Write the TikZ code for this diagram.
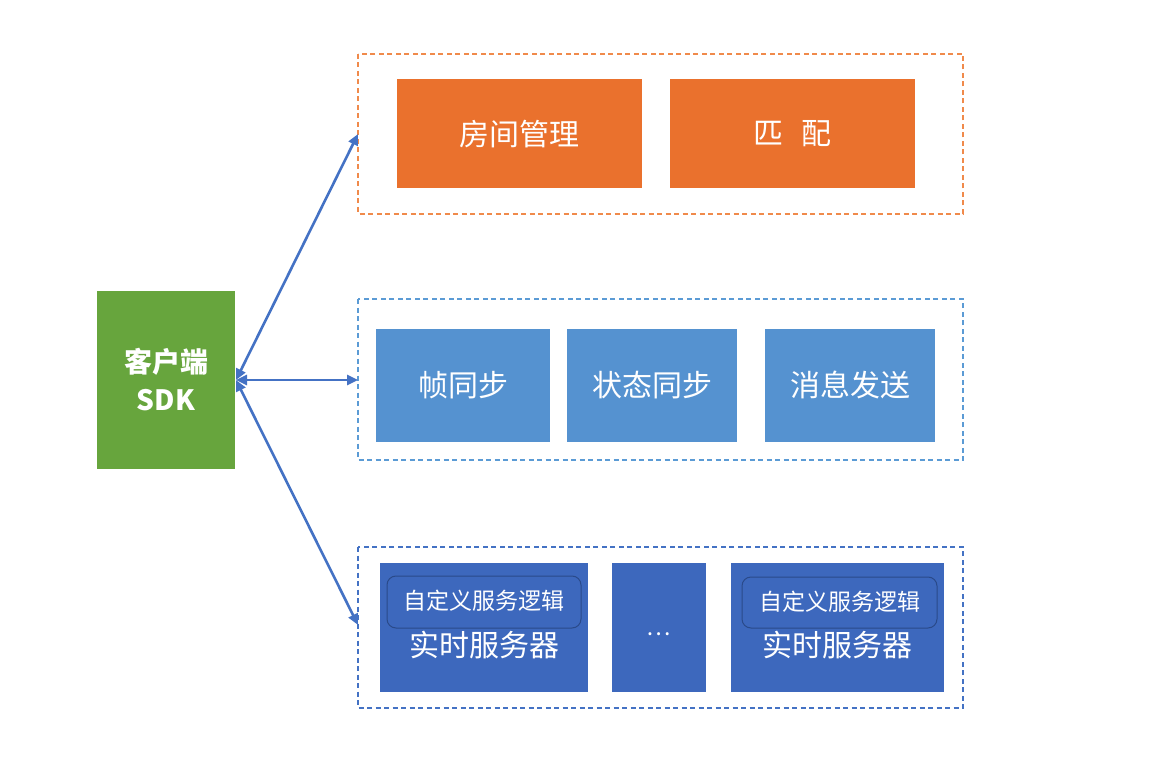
\documentclass[tikz,border=0pt]{standalone}
\usepackage{fontspec}
\setmainfont{Noto Sans CJK SC}
\usetikzlibrary{arrows.meta}
\definecolor{sdkgreen}{HTML}{67A53D}
\definecolor{orgfill}{HTML}{EA712D}
\definecolor{orgline}{HTML}{F08A4B}
\definecolor{midblue}{HTML}{5592D0}
\definecolor{midline}{HTML}{5B9BD5}
\definecolor{darkblue}{HTML}{3D68BD}
\definecolor{darkline}{HTML}{4472C4}
\definecolor{innerline}{HTML}{2A4A8A}
\definecolor{arrowblue}{HTML}{4472C4}
\begin{document}
\begin{tikzpicture}[x=1pt,y=-1pt,
  group/.style={draw, line width=1.5pt, dash pattern=on 5pt off 3.5pt},
  fbox/.style={draw=none, text=white, font=\fontsize{30}{34}\selectfont},
  cbox/.style={text=white, font=\fontsize{23}{27}\selectfont},
  conn/.style={draw=arrowblue, line width=2.6pt, {Triangle[length=11pt,width=10pt]}-{Triangle[length=11pt,width=10pt]}}
]
\useasboundingbox (0,0) rectangle (1154,770);
% groups
\draw[group, draw=orgline] (358,54) rectangle (963,214);
\draw[group, draw=midline] (358,299) rectangle (963,460);
\draw[group, draw=darkline] (358,547) rectangle (963,708);
\coordinate (g1) at (358,134);
\coordinate (g2) at (358,380);
\coordinate (g3) at (358,625);
% SDK
\fill[sdkgreen] (97,291) rectangle (235,469);
\node[text=white, font=\bfseries\fontsize{28}{38}\selectfont, align=center] (sdk) at (166,380) {客户端\\SDK};
\coordinate (s) at (236,380);
% orange
\fill[orgfill] (397,79) rectangle (642,188);
\node[fbox] (room) at (519.5,134) {房间管理};
\fill[orgfill] (670,79) rectangle (915,188);
\node[fbox] (match) at (792.5,134) {匹\hspace{0.6em}配};
% mid blue
\fill[midblue] (376,329) rectangle (550,442);
\node[fbox] (frame) at (463,385) {帧同步};
\fill[midblue] (567,329) rectangle (737,442);
\node[fbox] (state) at (652,385) {状态同步};
\fill[midblue] (765,329) rectangle (935,442);
\node[fbox] (msg) at (850,385) {消息发送};
% dark blue
\fill[darkblue] (380,563) rectangle (588,692);
\draw[innerline, line width=1pt, rounded corners=9pt] (387,576) rectangle (581,628);
\node[cbox] (c1) at (484,601) {自定义服务逻辑};
\node[fbox] (rt1) at (484,645) {实时服务器};
\fill[darkblue] (612,563) rectangle (706,692);
\node[cbox] (dots) at (659,634) {…};
\fill[darkblue] (731,563) rectangle (944,692);
\draw[innerline, line width=1pt, rounded corners=9pt] (742,577) rectangle (937,628);
\node[cbox] (c2) at (839.5,602) {自定义服务逻辑};
\node[fbox] (rt2) at (837,645) {实时服务器};
% connectors
\draw[conn] (s) -- (g1);
\draw[conn] (s) -- (g2);
\draw[conn] (s) -- (g3);
\end{tikzpicture}
\end{document}
